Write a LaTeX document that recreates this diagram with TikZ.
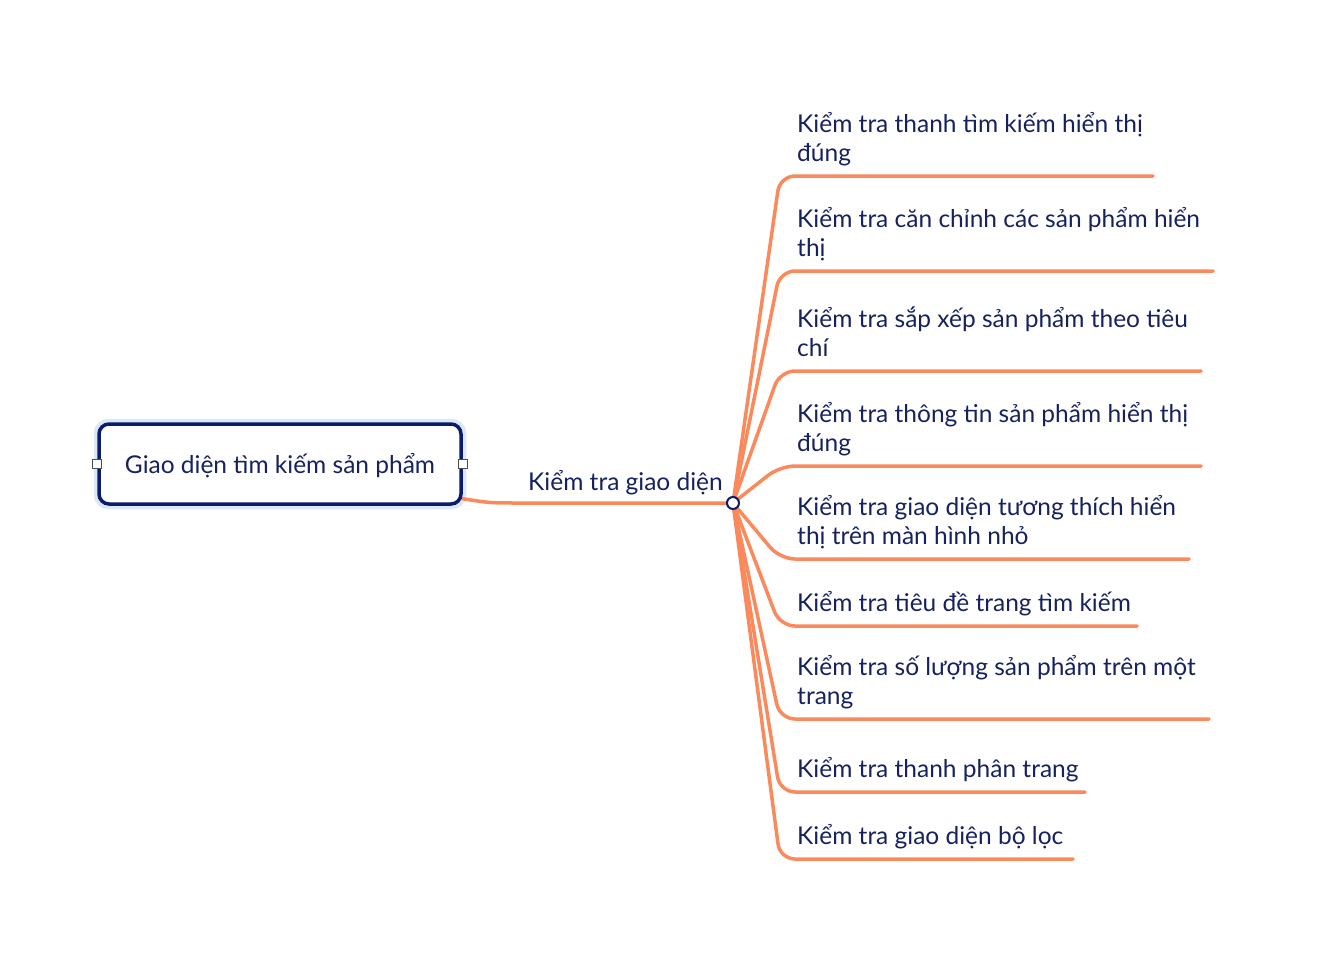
\documentclass[tikz,border=0pt]{standalone}
\usepackage{fontspec}
\setmainfont{Lato}
\usetikzlibrary{positioning,calc,backgrounds}
\definecolor{navy}{HTML}{0A1C6B}
\definecolor{ink}{HTML}{16215E}
\definecolor{branch}{HTML}{FA8A5C}
\definecolor{glow}{HTML}{DCE8FA}

\begin{document}
\begin{tikzpicture}[x=1pt, y=-1pt,
  root/.style={draw=navy, line width=3.5pt, rounded corners=10pt, fill=white, minimum width=362pt, minimum height=80pt, font=\fontsize{24.5}{29}\selectfont, text=ink},
  handle/.style={draw=gray!60!black, fill=white, line width=1.3pt, minimum size=9pt, inner sep=0pt},
  hub/.style={circle, draw=navy, fill=white, line width=2pt, minimum size=12pt, inner sep=0pt},
  leaf/.style={anchor=south west, inner sep=0pt, align=left, text depth=5pt, font=\fontsize{24.5}{29}\selectfont, text=ink},
  br/.style={branch, line width=3.5pt, line cap=round, rounded corners=15pt}
]
  \useasboundingbox (0,0) rectangle (1322,972);
  % central topic
  \node[root, text depth=1pt] (root) at (280,464) {Giao diện tìm kiếm sản phẩm};
  \node[handle] (hl) at (root.west) {};
  \node[handle] (hr) at (root.east) {};
  % main branch
  \node[hub] (j) at (733,503) {};
  \node[leaf, anchor=south east] (mid) at ($(j)+(-10,-7)$) {Kiểm tra giao diện};
  % sub topics
  \foreach \i/\y/\xe/\txt in {
    1/176/1153/{Kiểm tra thanh tìm kiếm hiển thị\\đúng},
    2/271/1213/{Kiểm tra căn chỉnh các sản phẩm hiển\\thị},
    3/371/1201/{Kiểm tra sắp xếp sản phẩm theo tiêu\\chí},
    4/466/1201/{Kiểm tra thông tin sản phẩm hiển thị\\đúng},
    5/559/1189/{Kiểm tra giao diện tương thích hiển\\thị trên màn hình nhỏ},
    6/626/1137/{Kiểm tra tiêu đề trang tìm kiếm},
    7/719/1209/{Kiểm tra số lượng sản phẩm trên một\\trang},
    8/792/1085/{Kiểm tra thanh phân trang},
    9/859/1073/{Kiểm tra giao diện bộ lọc}}{
    \coordinate (e\i) at (\xe,\y);
    \node[leaf] (l\i) at (797,\y-9) {\txt};
    \begin{scope}[on background layer]
      \draw[br] (j.center) -- (780,\y) -- (e\i);
    \end{scope}
  }
  \begin{scope}[on background layer]
    \draw[glow, line width=7pt, rounded corners=11pt] (root.south west) rectangle (root.north east);
    \draw[br, rounded corners=0pt] ([yshift=7pt]root.south east) .. controls (490,503) .. (522,503) -- (j.center);
  \end{scope}
\end{tikzpicture}
\end{document}
